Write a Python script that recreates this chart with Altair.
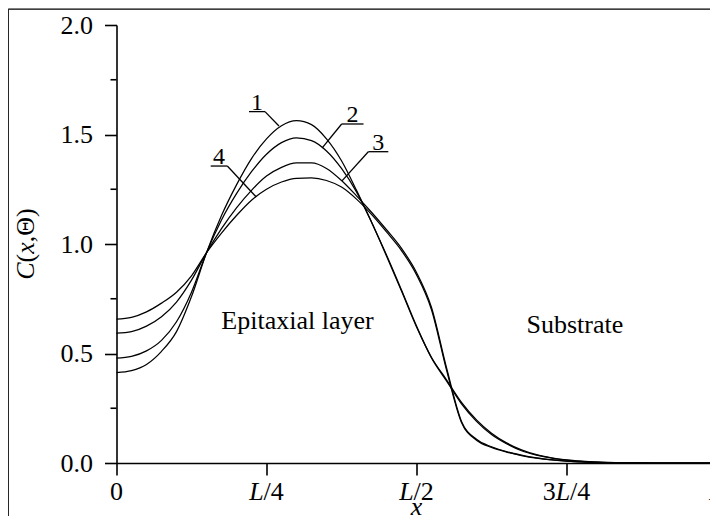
import altair as alt
import pandas as pd

# ---------------- data ----------------
x_pos = [0.0, 0.025, 0.05, 0.075, 0.1, 0.125, 0.15, 0.175, 0.2, 0.225, 0.25,
         0.275, 0.3, 0.325, 0.35, 0.375, 0.4, 0.425, 0.45, 0.475, 0.5,
         0.525, 0.55, 0.575, 0.6, 0.625, 0.65, 0.675, 0.7, 0.725, 0.75,
         0.775, 0.8, 0.85, 0.9, 0.95, 1.0]

curve_1 = [0.413, 0.422, 0.45, 0.51, 0.60, 0.76, 0.96, 1.13, 1.27, 1.39, 1.48,
           1.54, 1.563, 1.545, 1.48, 1.38, 1.245, 1.10, 0.95, 0.79, 0.625,
           0.48, 0.375, 0.27, 0.19, 0.13, 0.088, 0.056, 0.036, 0.022, 0.013,
           0.007, 0.004, 0.001, 0.0, 0.0, 0.0]
curve_2 = [0.479, 0.487, 0.512, 0.56, 0.645, 0.78, 0.96, 1.11, 1.23, 1.33, 1.41,
           1.463, 1.485, 1.472, 1.425, 1.345, 1.238, 1.10, 0.945, 0.785, 0.622,
           0.482, 0.38, 0.277, 0.197, 0.136, 0.092, 0.06, 0.038, 0.024, 0.014,
           0.008, 0.004, 0.001, 0.0, 0.0, 0.0]
curve_3 = [0.593, 0.60, 0.625, 0.668, 0.735, 0.835, 0.96, 1.07, 1.165, 1.245, 1.31,
           1.35, 1.37, 1.37, 1.345, 1.29, 1.22, 1.145, 1.065, 0.98, 0.87,
           0.71, 0.435, 0.19, 0.108, 0.074, 0.052, 0.036, 0.023, 0.015, 0.009,
           0.005, 0.003, 0.001, 0.0, 0.0, 0.0]
curve_4 = [0.657, 0.665, 0.69, 0.73, 0.78, 0.855, 0.96, 1.05, 1.13, 1.20, 1.25,
           1.283, 1.30, 1.302, 1.29, 1.26, 1.205, 1.135, 1.055, 0.97, 0.86,
           0.70, 0.425, 0.185, 0.104, 0.071, 0.05, 0.034, 0.022, 0.014, 0.009,
           0.005, 0.003, 0.001, 0.0, 0.0, 0.0]
curve_names = ["1", "2", "3", "4"]

y_major = [0.0, 0.5, 1.0, 1.5, 2.0]
y_minor = [0.25, 0.75, 1.25, 1.75]

x_ticks = [0.0, 0.25, 0.5, 0.75, 1.0]
x_tick_pre = ["0", "", "", "3", ""]       # upright part before L
x_tick_it = ["", "L", "L", "L", "L"]      # italic part
x_tick_post = ["", "/4", "/2", "/4", ""]  # upright part after L

# curve labels: text, underline start/end x, underline y, leader end (x, y)
lab_text = ["1", "2", "3", "4"]
lab_ux1 = [0.2208, 0.3753, 0.4197, 0.1570]
lab_ux2 = [0.2475, 0.4117, 0.4530, 0.1847]
lab_uy = [1.6045, 1.548, 1.4215, 1.356]
lab_lx0 = [0.2475, 0.3753, 0.4197, 0.1847]
lab_lx1 = [0.2708, 0.3425, 0.3758, 0.2325]
lab_ly1 = [1.539, 1.438, 1.288, 1.216]

region_text = ["Epitaxial layer", "Substrate"]
region_x = [0.3017, 0.764]
region_y = [0.61, 0.592]

# ---------------- layout constants ----------------
FONT = "Liberation Serif"
FS = 26
W, H = 600, 438
PAD_L, PAD_T = 108.5, 17

x_scale = alt.Scale(domain=[0, 1], nice=False, zero=False)
y_scale = alt.Scale(domain=[0, 2], nice=False, zero=False)

rows = []
for name, vals in zip(curve_names, [curve_1, curve_2, curve_3, curve_4]):
    for xv, cv in zip(x_pos, vals):
        rows.append({"x": xv, "C": cv, "curve": name})
df = pd.DataFrame(rows)

curves = alt.Chart(df).mark_line(
    color="black", strokeWidth=1.25, interpolate="monotone"
).encode(
    x=alt.X("x:Q", scale=x_scale,
            axis=alt.Axis(values=x_ticks, labels=False, title=None, grid=False,
                          tickSize=12, tickWidth=1.6, tickColor="black",
                          domainColor="black", domainWidth=1.6)),
    y=alt.Y("C:Q", scale=y_scale,
            axis=alt.Axis(values=y_major, format=".1f", title=None, grid=False,
                          tickSize=12, tickWidth=1.6, tickColor="black",
                          domainColor="black", domainWidth=1.6,
                          labelFont=FONT, labelFontSize=FS, labelColor="black",
                          labelPadding=12)),
    detail="curve:N",
)

minor = alt.Chart(pd.DataFrame({"v": y_minor})).mark_rule(
    color="black", strokeWidth=1.6
).encode(x=alt.value(-6), x2=alt.value(0), y=alt.Y("v:Q", scale=y_scale))

layers = [curves, minor]

# frame around whole figure (left and top edges visible)
layers.append(alt.Chart(pd.DataFrame({"a": [0]})).mark_rule(color="black", strokeWidth=1.3)
              .encode(x=alt.value(-PAD_L + 0.2), y=alt.value(-PAD_T + 1.2), y2=alt.value(H + 200)))
layers.append(alt.Chart(pd.DataFrame({"a": [0]})).mark_rule(color="black", strokeWidth=1.3)
              .encode(x=alt.value(-PAD_L + 0.2), x2=alt.value(W + 200), y=alt.value(-PAD_T + 1.2)))

# x tick labels with italic L
WID = {"0": 0.5, "1": 0.5, "2": 0.5, "3": 0.5, "4": 0.5, "/": 0.278, "L": 0.556}
def wid(s):
    return sum(WID[c] for c in s) * FS

for pos, pre, it, post in zip(x_ticks, x_tick_pre, x_tick_it, x_tick_post):
    start = -(wid(pre) + wid(it) + wid(post)) / 2
    parts = [(pre, start, "normal"), (it, start + wid(pre), "italic"),
             (post, start + wid(pre) + wid(it), "normal")]
    for txt, off, style in parts:
        if not txt:
            continue
        layers.append(
            alt.Chart(pd.DataFrame({"x": [pos], "t": [txt]})).mark_text(
                align="left", baseline="alphabetic", font=FONT, fontSize=FS,
                fontStyle=style, dx=off, color="black"
            ).encode(x=alt.X("x:Q", scale=x_scale), y=alt.value(H + 37), text="t:N")
        )

# x axis title
layers.append(
    alt.Chart(pd.DataFrame({"x": [0.5], "t": ["x"]})).mark_text(
        align="center", baseline="alphabetic", font=FONT, fontSize=FS,
        fontStyle="italic", color="black"
    ).encode(x=alt.X("x:Q", scale=x_scale), y=alt.value(H + 51.5), text="t:N")
)

# y axis title C(x,Θ), rotated
title_parts = [("C", 0.667, "italic"), ("(", 0.333, "normal"),
               ("x", 0.444, "italic"), (",Θ)", 0.25 + 0.722 + 0.333, "normal")]
total = sum(p[1] for p in title_parts) * FS
off = -total / 2
for txt, w, style in title_parts:
    layers.append(
        alt.Chart(pd.DataFrame({"y": [1.0], "t": [txt]})).mark_text(
            align="left", baseline="middle", angle=270, font=FONT, fontSize=FS,
            fontStyle=style, dx=off, color="black"
        ).encode(x=alt.value(-90.5), y=alt.Y("y:Q", scale=y_scale), text="t:N")
    )
    off += w * FS

# curve labels with underline and leader
lab_df = pd.DataFrame({
    "t": lab_text, "ux1": lab_ux1, "ux2": lab_ux2, "uy": lab_uy,
    "lx0": lab_lx0, "lx1": lab_lx1, "ly1": lab_ly1,
})
lab_df["cx"] = (lab_df["ux1"] + lab_df["ux2"]) / 2
layers.append(
    alt.Chart(lab_df).mark_rule(color="black", strokeWidth=1.3).encode(
        x=alt.X("ux1:Q", scale=x_scale), x2="ux2:Q",
        y=alt.Y("uy:Q", scale=y_scale))
)
layers.append(
    alt.Chart(lab_df).mark_rule(color="black", strokeWidth=1.3).encode(
        x=alt.X("lx0:Q", scale=x_scale), x2="lx1:Q",
        y=alt.Y("uy:Q", scale=y_scale), y2="ly1:Q")
)
layers.append(
    alt.Chart(lab_df).mark_text(
        align="center", baseline="alphabetic", font=FONT, fontSize=24, dy=-2,
        color="black"
    ).encode(x=alt.X("cx:Q", scale=x_scale), y=alt.Y("uy:Q", scale=y_scale), text="t:N")
)

# region labels
layers.append(
    alt.Chart(pd.DataFrame({"x": region_x, "y": region_y, "t": region_text})).mark_text(
        align="center", baseline="alphabetic", font=FONT, fontSize=FS, color="black"
    ).encode(x=alt.X("x:Q", scale=x_scale), y=alt.Y("y:Q", scale=y_scale), text="t:N")
)

chart = alt.layer(*layers).properties(
    width=W, height=H,
    autosize=alt.AutoSizeParams(type="none"),
    padding={"left": PAD_L, "top": PAD_T, "right": -6.5, "bottom": 53},
).configure_view(stroke=None)

chart.save("out.html", embed_options={"renderer": "svg", "actions": False})
